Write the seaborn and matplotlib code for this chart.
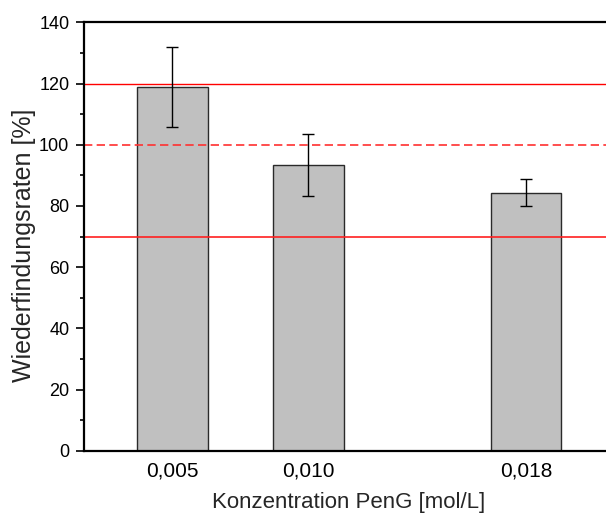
import matplotlib
matplotlib.use("Agg")
import matplotlib.pyplot as plt
from matplotlib.ticker import MultipleLocator, FixedLocator
import numpy as np
import pandas as pd
import seaborn as sns

# Recovery rates per PenG concentration
concentrations = [0.005, 0.010, 0.018]
recovery = [118.8, 93.5, 84.4]
recovery_sd = [13.0, 10.1, 4.5]
tick_labels = ["0,005", "0,010", "0,018"]

# Acceptance limits
limit_upper = 120
limit_lower = 70
target = 100

sns.set_style("ticks")
plt.rcParams["font.family"] = ["Liberation Sans", "DejaVu Sans"]

df = pd.DataFrame({"conc": concentrations, "rate": recovery})

fig = plt.figure(figsize=(6.06, 5.13), dpi=100)
ax = fig.add_axes([0.1386, 0.1209, 0.876, 0.8357])

sns.barplot(data=df, x="conc", y="rate", native_scale=True, width=0.52,
            color="#C0C0C0", saturation=1, edgecolor="#2a2a2a", linewidth=1.0,
            errorbar=None, ax=ax, zorder=2)

# limit lines drawn across the bars
ax.axhline(limit_upper, color="#ff0000", lw=1.0, zorder=4)
ax.axhline(limit_lower, color="#ff2020", lw=1.2, zorder=4)
ax.axhline(target, color="#ff3030", lw=1.2, dashes=(5, 2.6), zorder=4)

ax.errorbar(concentrations, recovery, yerr=recovery_sd, fmt="none",
            ecolor="black", elinewidth=1.0, capsize=4, capthick=1.0, zorder=5)

ax.set_xlim(0.00175, 0.02127)
ax.set_ylim(0, 140)
ax.xaxis.set_major_locator(FixedLocator(concentrations))
ax.set_xticklabels(tick_labels)
ax.yaxis.set_major_locator(MultipleLocator(20))
ax.yaxis.set_minor_locator(MultipleLocator(10))

ax.tick_params(axis="x", length=0, pad=7.5, labelsize=15, colors="black")
ax.tick_params(axis="y", which="major", length=5.8, width=1.2, pad=4.8,
               labelsize=13, direction="out", colors="black")
ax.tick_params(axis="y", which="minor", length=3, width=1.2, direction="out",
               colors="black")
ax.tick_params(axis="x", which="minor", length=0)

for side in ["left", "bottom", "top", "right"]:
    ax.spines[side].set_visible(True)
    ax.spines[side].set_linewidth(1.6)
    ax.spines[side].set_color("black")
    ax.spines[side].set_zorder(6)

ax.set_xlabel("Konzentration PenG [mol/L]", fontsize=16)
ax.set_ylabel("Wiederfindungsraten [%]", fontsize=18)
ax.xaxis.set_label_coords(0.499, -0.132)
ax.xaxis.label.set_va("baseline")
ax.yaxis.set_label_coords(-0.113, 0.479)
ax.yaxis.label.set_va("center")

fig.savefig("out.png", dpi=100)
